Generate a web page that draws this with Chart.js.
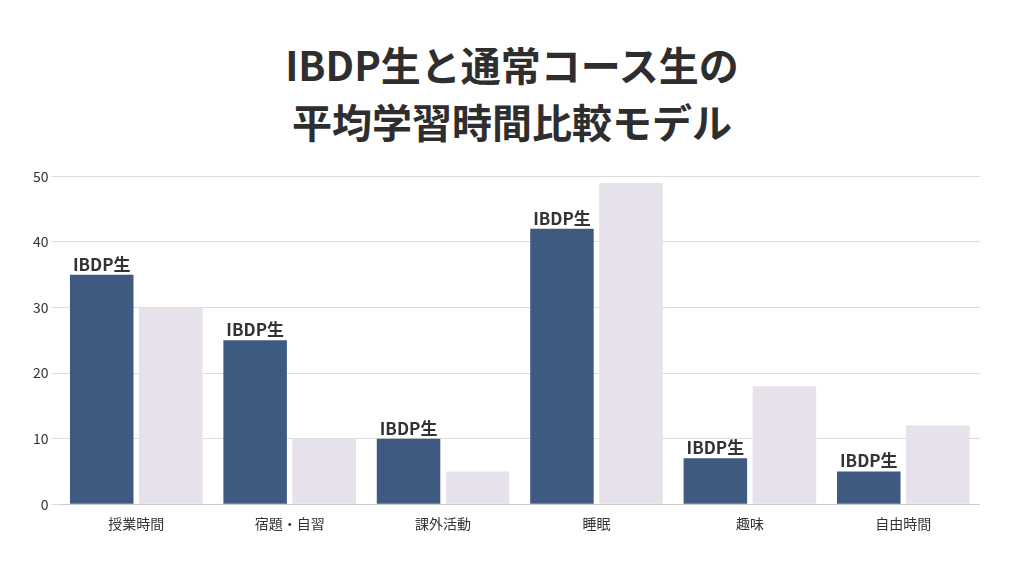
<!DOCTYPE html>
<html><head><meta charset="utf-8">
<script src="https://cdn.jsdelivr.net/npm/chart.js@4/dist/chart.umd.min.js"></script>
<style>html,body{margin:0;background:#fff;width:1024px;height:576px;overflow:hidden}
#t{position:absolute;top:36px;left:0;width:1024px;text-align:center;font-family:"Noto Sans CJK JP";font-weight:700;font-size:40px;line-height:57px;color:#2e2e2e}
#w{position:absolute;left:30px;top:165px;width:950px;height:370px}</style></head>
<body><div id="t">IBDP生と通常コース生の<br>平均学習時間比較モデル</div>
<div id="w"><canvas id="c"></canvas></div>
<script>
const categories=["授業時間","宿題・自習","課外活動","睡眠","趣味","自由時間"];
const ibdp=[35,25,10,42,7,5];
const normal=[30,10,5,49,18,12];
const barLabel="IBDP生";
const F="'Noto Sans CJK JP'";
const lbl={id:"lbl",afterDatasetsDraw(ch){const c=ch.ctx,m=ch.getDatasetMeta(0);c.save();c.font="bold 17px "+F;c.fillStyle="#333";c.textAlign="center";c.textBaseline="bottom";m.data.forEach(b=>c.fillText(barLabel,b.x,b.y-2));c.restore();}};
new Chart(document.getElementById("c"),{type:"bar",
data:{labels:categories,datasets:[
{label:"IBDP生",data:ibdp,backgroundColor:"#3e5a80"},
{label:"通常コース生",data:normal,backgroundColor:"#e6e1ea"}]},
options:{responsive:true,maintainAspectRatio:false,animation:false,
layout:{padding:{top:10}},
plugins:{legend:{display:false},tooltip:{enabled:false}},
datasets:{bar:{barPercentage:0.92,categoryPercentage:0.9}},
scales:{y:{min:0,max:50,ticks:{stepSize:10,color:"#333",font:{family:F,size:14}},grid:{color:"#dddddd"},border:{display:false}},
x:{ticks:{color:"#333",font:{family:F,size:14}},grid:{display:false},border:{color:"#ccc"}}}},
plugins:[lbl]});
</script></body></html>
